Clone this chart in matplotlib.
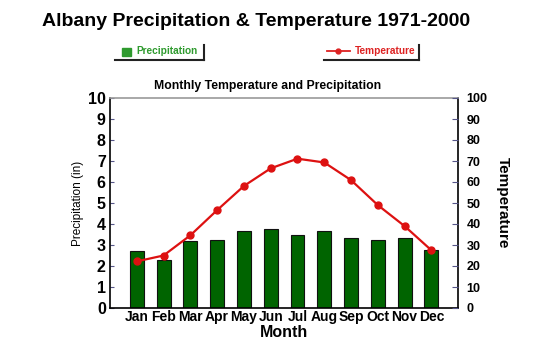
import numpy as np
import matplotlib.pyplot as plt
from matplotlib.patches import Rectangle
from matplotlib.lines import Line2D

# Datos: normales mensuales Albany 1971-2000
meses = ['Jan', 'Feb', 'Mar', 'Apr', 'May', 'Jun', 'Jul', 'Aug', 'Sep', 'Oct', 'Nov', 'Dec']
precipitacion = [2.71, 2.27, 3.17, 3.25, 3.67, 3.74, 3.50, 3.68, 3.31, 3.23, 3.31, 2.76]
temperatura = [22.2, 25.0, 34.6, 46.6, 58.1, 66.5, 71.1, 69.3, 60.9, 49.0, 39.0, 27.5]

fuente = ['Liberation Sans', 'DejaVu Sans']

fig = plt.figure(figsize=(5.5, 3.5), dpi=100)
ax = fig.add_axes([0.2, 0.12, 0.633, 0.60])
x = np.arange(len(meses))

ax.bar(x, precipitacion, width=0.52, color='#006400', edgecolor='#111111', linewidth=0.8, zorder=2)
ax.set_xlim(-1, 12)
ax.set_ylim(0, 10)
ax.set_yticks(range(0, 11))
ax.set_yticklabels([str(i) for i in range(0, 11)], family=fuente, fontweight='bold', fontsize=11.5)
ax.set_xticks(x)
ax.set_xticklabels(meses, family=fuente, fontweight='bold', fontsize=10)
ax.tick_params(axis='y', direction='in', length=3, color='#555588', pad=3)
ax.tick_params(axis='x', length=0, pad=1.5)
ax.set_ylabel('Precipitation (in)', family=fuente, fontsize=8.5, labelpad=3)
ax.set_xlabel('Month', family=fuente, fontweight='bold', fontsize=11.5, labelpad=0.5)
ax.spines['top'].set_color('#999999')
ax.spines['top'].set_linewidth(1.2)
for s in ['left', 'bottom', 'right']:
    ax.spines[s].set_color('black')
    ax.spines[s].set_linewidth(1.2)
fig.text(268 / 550, 1 - 86 / 350, 'Monthly Temperature and Precipitation', family=fuente,
         fontweight='bold', fontsize=8.8, ha='center', va='center')

ax2 = ax.twinx()
ax2.plot(x, temperatura, color='#dd1111', linewidth=1.6, marker='o', markersize=5, zorder=3)
ax2.set_ylim(0, 100)
ax2.set_yticks(range(0, 101, 10))
ax2.set_yticklabels([str(i) for i in range(0, 101, 10)], family=fuente, fontweight='bold', fontsize=9)
ax2.tick_params(axis='y', direction='in', length=4, color='#555588', pad=6)
ax2.set_ylabel('Temperature', family=fuente, fontweight='bold', fontsize=11, rotation=-90, labelpad=16)
for s in ax2.spines.values():
    s.set_visible(False)

# Título general
fig.text(256 / 550, 1 - 22 / 350, 'Albany Precipitation & Temperature 1971-2000', family=fuente,
         fontweight='bold', fontsize=14, ha='center', va='center')

# Leyenda manual en cajas
def caja(x0, x1, y0, y1):
    fig.add_artist(Line2D([x0, x1], [y0, y0], color='#222222', lw=1.5, transform=fig.transFigure))
    fig.add_artist(Line2D([x1, x1], [y0, y1], color='#222222', lw=1.5, transform=fig.transFigure))

caja(115 / 550, 204 / 550, 1 - 60 / 350, 1 - 45 / 350)
fig.add_artist(Rectangle((122 / 550, 1 - 55.5 / 350), 9 / 550, 7 / 350, color='#2e9a2e', transform=fig.transFigure))
fig.text(136 / 550, 1 - 51 / 350, 'Precipitation', family=fuente, fontweight='bold', fontsize=7.3,
         color='#2e9a2e', va='center')

caja(324 / 550, 419 / 550, 1 - 60 / 350, 1 - 45 / 350)
fig.add_artist(Line2D([327 / 550, 350 / 550], [1 - 51 / 350, 1 - 51 / 350], color='#dd2222', lw=1.3,
                      transform=fig.transFigure))
fig.add_artist(Line2D([338 / 550], [1 - 51 / 350], color='#dd2222', marker='o', markersize=3.5,
                      transform=fig.transFigure))
fig.text(355 / 550, 1 - 51 / 350, 'Temperature', family=fuente, fontweight='bold', fontsize=7.3,
         color='#dd2222', va='center')

plt.savefig('out.png', dpi=100)
